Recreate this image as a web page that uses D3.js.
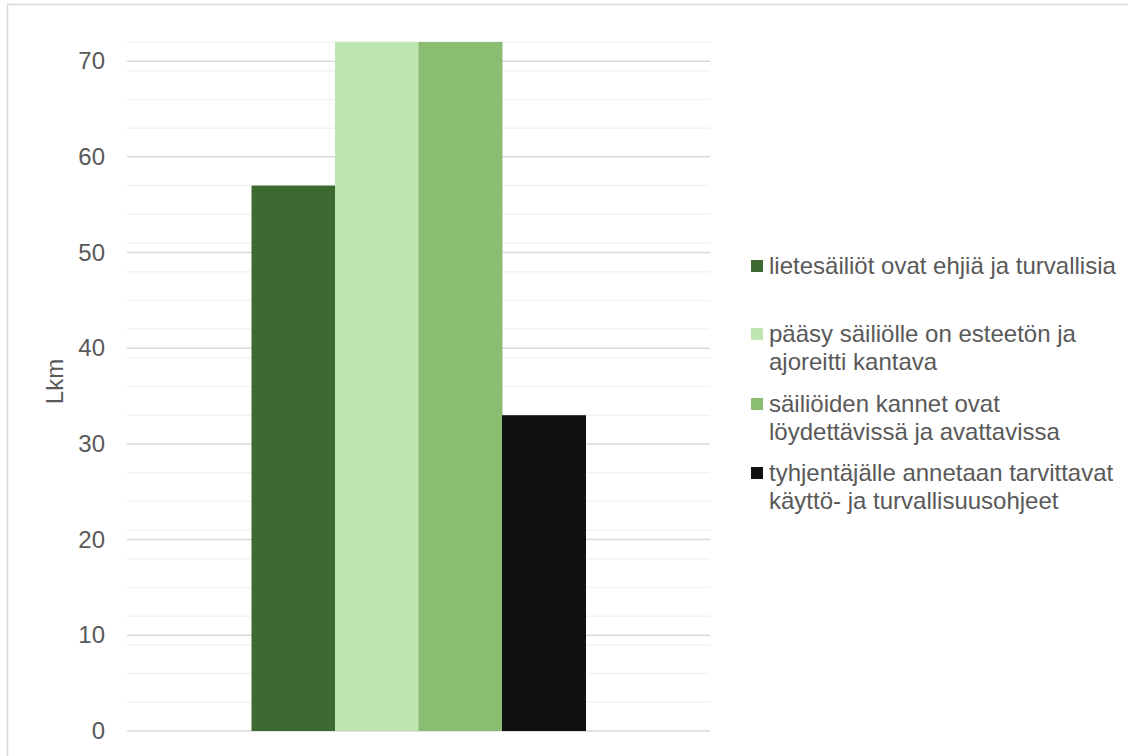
<!DOCTYPE html>
<html>
<head>
<meta charset="utf-8">
<script src="https://cdn.jsdelivr.net/npm/d3@7"></script>
<style>
  html, body { margin: 0; padding: 0; background: #fff; }
  svg { display: block; font-family: Arial, "Liberation Sans", sans-serif; }
</style>
</head>
<body>
<div id="chart"></div>
<script>
// Data
const category = [""];
const seriesNames = [
  "lietesäiliöt ovat ehjiä ja turvallisia",
  "pääsy säiliölle on esteetön ja ajoreitti kantava",
  "säiliöiden kannet ovat löydettävissä ja avattavissa",
  "tyhjentäjälle annetaan tarvittavat käyttö- ja turvallisuusohjeet"
];
const seriesValues = [57, 78, 76, 33];
const seriesColors = ["#3e6930", "#bfe5b0", "#8abd72", "#111111"];
const legendLines = [
  ["lietesäiliöt ovat ehjiä ja turvallisia"],
  ["pääsy säiliölle on esteetön ja", "ajoreitti kantava"],
  ["säiliöiden kannet ovat", "löydettävissä ja avattavissa"],
  ["tyhjentäjälle annetaan tarvittavat", "käyttö- ja turvallisuusohjeet"]
];
const majorTicks = [0, 10, 20, 30, 40, 50, 60, 70];
const minorTicks = d3.range(0, 73, 3);
const yMax = 72;
const yTitle = "Lkm";

const W = 1128, H = 756;
const plot = { left: 127, right: 710, top: 42, bottom: 731 };
const fontSize = "24px";
const textColor = "#595959";

const svg = d3.select("#chart").append("svg")
  .attr("width", W).attr("height", H);

// Chart border (cropped on the right and bottom)
svg.append("rect")
  .attr("x", 7.5).attr("y", 4.5)
  .attr("width", W + 20).attr("height", H + 20)
  .attr("fill", "none")
  .attr("stroke", "#d9d9d9")
  .attr("stroke-width", 1.5);

const y = d3.scaleLinear().domain([0, yMax]).range([plot.bottom, plot.top]);

const x0 = d3.scaleBand()
  .domain(category)
  .range([plot.left, plot.right])
  .paddingInner(0)
  .paddingOuter(0.3728);

const x1 = d3.scaleBand()
  .domain(seriesNames)
  .range([0, x0.bandwidth()])
  .padding(0);

// Minor gridlines
svg.append("g")
  .selectAll("line")
  .data(minorTicks.filter(d => majorTicks.indexOf(d) < 0))
  .enter().append("line")
  .attr("x1", plot.left).attr("x2", plot.right)
  .attr("y1", d => y(d)).attr("y2", d => y(d))
  .attr("stroke", "#f2f2f2")
  .attr("stroke-width", 1.5);

// Major gridlines
svg.append("g")
  .selectAll("line")
  .data(majorTicks)
  .enter().append("line")
  .attr("x1", plot.left).attr("x2", plot.right)
  .attr("y1", d => y(d)).attr("y2", d => y(d))
  .attr("stroke", "#d9d9d9")
  .attr("stroke-width", 1.5);

// Clip for bars that go past the axis max
svg.append("clipPath").attr("id", "plotclip")
  .append("rect")
  .attr("x", plot.left).attr("y", plot.top)
  .attr("width", plot.right - plot.left)
  .attr("height", plot.bottom - plot.top);

const bars = svg.append("g")
  .attr("clip-path", "url(#plotclip)")
  .append("g")
  .attr("transform", `translate(${x0(category[0])},0)`);

bars.selectAll("rect")
  .data(seriesNames)
  .enter().append("rect")
  .attr("x", d => x1(d))
  .attr("width", x1.bandwidth() + 0.5)
  .attr("y", (d, i) => y(seriesValues[i]))
  .attr("height", (d, i) => y(0) - y(seriesValues[i]))
  .attr("fill", (d, i) => seriesColors[i]);

// Y axis labels
const yAxis = svg.append("g")
  .attr("transform", `translate(${plot.left},0)`)
  .call(d3.axisLeft(y).tickValues(majorTicks).tickSize(0).tickPadding(22));
yAxis.select(".domain").remove();
yAxis.selectAll("text")
  .attr("font-size", fontSize)
  .attr("font-family", "Arial, 'Liberation Sans', sans-serif")
  .attr("fill", textColor);

// Y axis title
svg.append("text")
  .attr("transform", `translate(55, ${(plot.top + plot.bottom) / 2 - 5}) rotate(-90)`)
  .attr("text-anchor", "middle")
  .attr("dy", "0.35em")
  .attr("font-size", fontSize)
  .attr("fill", textColor)
  .text(yTitle);

// Legend
const legendTop = [266, 334, 404, 473];
const legend = svg.append("g");
legendLines.forEach((lines, i) => {
  const g = legend.append("g").attr("transform", `translate(751, ${legendTop[i]})`);
  g.append("rect")
    .attr("x", 0).attr("y", -6)
    .attr("width", 12).attr("height", 12)
    .attr("fill", seriesColors[i]);
  lines.forEach((line, j) => {
    g.append("text")
      .attr("x", 18)
      .attr("y", j * 28)
      .attr("dy", "0.35em")
      .attr("font-size", fontSize)
      .attr("fill", textColor)
      .text(line);
  });
});
</script>
</body>
</html>
